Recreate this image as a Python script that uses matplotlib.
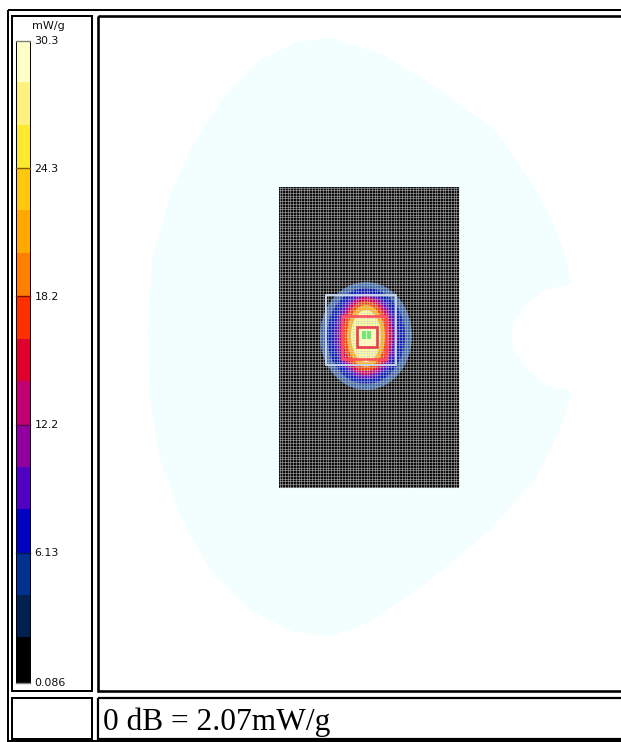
import matplotlib
matplotlib.use("Agg")
import matplotlib.pyplot as plt
import numpy as np
from matplotlib.patches import Polygon, Rectangle, Ellipse

W, H = 621, 742

band_edges = [41, 82, 125, 168, 210, 253, 296, 339, 381, 425, 467, 509, 553, 595, 637, 683]
band_colors = ['#ffffc8', '#fff080', '#ffe830', '#ffc810', '#ffa800', '#ff8000', '#ff3000',
               '#e00030', '#c00070', '#9000a0', '#5000c0', '#0000c0', '#003090', '#002050', '#000000']
tick_labels = ['30.3', '24.3', '18.2', '12.2', '6.13', '0.086']
tick_ys = [41, 168, 296, 425, 553, 683]
tick_colors = ['#808070', '#806000', '#801000', '#500050', '#001850', '#808080']

blob_x = [330, 295, 260, 225, 195, 170, 152, 147, 150, 160, 180, 210, 250, 295, 330, 370, 430, 490,
          535, 560, 572, 545, 525, 514, 512, 514, 525, 545, 572, 565, 552, 530, 495, 440, 385]
blob_y = [38, 42, 60, 95, 140, 195, 260, 330, 400, 460, 515, 570, 610, 632, 637, 622, 580, 530,
          480, 430, 391, 385, 367, 350, 337, 322, 305, 290, 284, 255, 220, 180, 130, 90, 55]

level_half_w = [46, 39, 32, 27, 23, 19, 15]
level_half_h = [54, 48, 43, 39, 35, 31, 26]
level_colors = ['#3a64a4', '#0a20b8', '#5a10c0', '#d00060', '#ff4000', '#ffb010', '#ffffa0']

fig = plt.figure(figsize=(W / 100, H / 100), dpi=100, facecolor='white')
ax = fig.add_axes([0, 0, 1, 1])
ax.set_xlim(0, W)
ax.set_ylim(H, 0)
ax.axis('off')

# table frames
def frame(x0, y0, x1, y1, lw=2.0):
    ax.add_patch(Rectangle((x0, y0), x1 - x0, y1 - y0, fill=False, ec='black', lw=lw * 0.72, zorder=5))

frame(8, 10, 640, 740.5)
frame(12, 16, 92, 691)
frame(98, 16, 640, 691, lw=2.6)
frame(12, 698, 92, 739)
frame(98, 698, 640, 739, lw=2.2)

# colour bar
for i, c in enumerate(band_colors):
    ax.add_patch(Rectangle((16, band_edges[i]), 13.5, band_edges[i + 1] - band_edges[i], fc=c, ec='none'))
ax.vlines([15.5, 29.5], 41, 683, color='black', lw=0.7)
for y, c in zip(tick_ys, tick_colors):
    ax.plot([15.5, 30], [y, y], color=c, lw=1.0)
for y, t in zip(tick_ys, tick_labels):
    ax.text(34.5, y + 0.5 if 41 < y < 683 else y - 0.5, t, family='DejaVu Sans',
            fontsize=7.9, color='#101010', va='center', ha='left')
ax.text(48, 26, 'mW/g', family='DejaVu Sans', fontsize=8.0, color='#101010', ha='center', va='center')

# phantom outline
ax.add_patch(Polygon(np.column_stack([blob_x, blob_y]), closed=True, fc='#f3ffff', ec='none', zorder=1))

# scan area
gx0, gx1, gy0, gy1 = 279, 459, 187, 488
ax.add_patch(Rectangle((gx0, gy0), gx1 - gx0, gy1 - gy0, fc='#0c0c0c', ec='none', zorder=2))
for hw, hh, c in zip(level_half_w, level_half_h, level_colors):
    ax.add_patch(Ellipse((366, 336), 2 * hw, 2 * hh, fc=c, ec='none', zorder=3))
xs = np.arange(gx0 + 0.5, gx1 + 0.5, 2.72)
ys = np.arange(gy0 + 0.5, gy1 + 0.5, 2.72)
ax.vlines(xs, gy0, gy1, color='#d0d0d0', lw=0.42, alpha=0.8, zorder=4)
ax.hlines(ys, gx0, gx1, color='#d0d0d0', lw=0.42, alpha=0.8, zorder=4)

# measurement boxes
ax.add_patch(Rectangle((326, 295), 70, 70, fill=False, ec='#c8d4e8', lw=1.4, zorder=6))
ax.add_patch(Rectangle((342, 316), 44, 43, fill=False, ec='#ff5060', lw=1.9, zorder=6))
ax.add_patch(Rectangle((356.5, 327), 20, 20, fc='#fff8c0', ec='#e84050', lw=1.9, zorder=6))
ax.add_patch(Rectangle((362, 330.5), 3.6, 8.5, fc='#70e878', ec='none', zorder=7))
ax.add_patch(Rectangle((367, 330.5), 3.6, 8.5, fc='#70e878', ec='none', zorder=7))

ax.text(103, 722, '0 dB = 2.07mW/g', family='Liberation Serif', fontsize=22.6, color='black', ha='left', va='center')

fig.savefig('out.png', dpi=100, facecolor='white')
